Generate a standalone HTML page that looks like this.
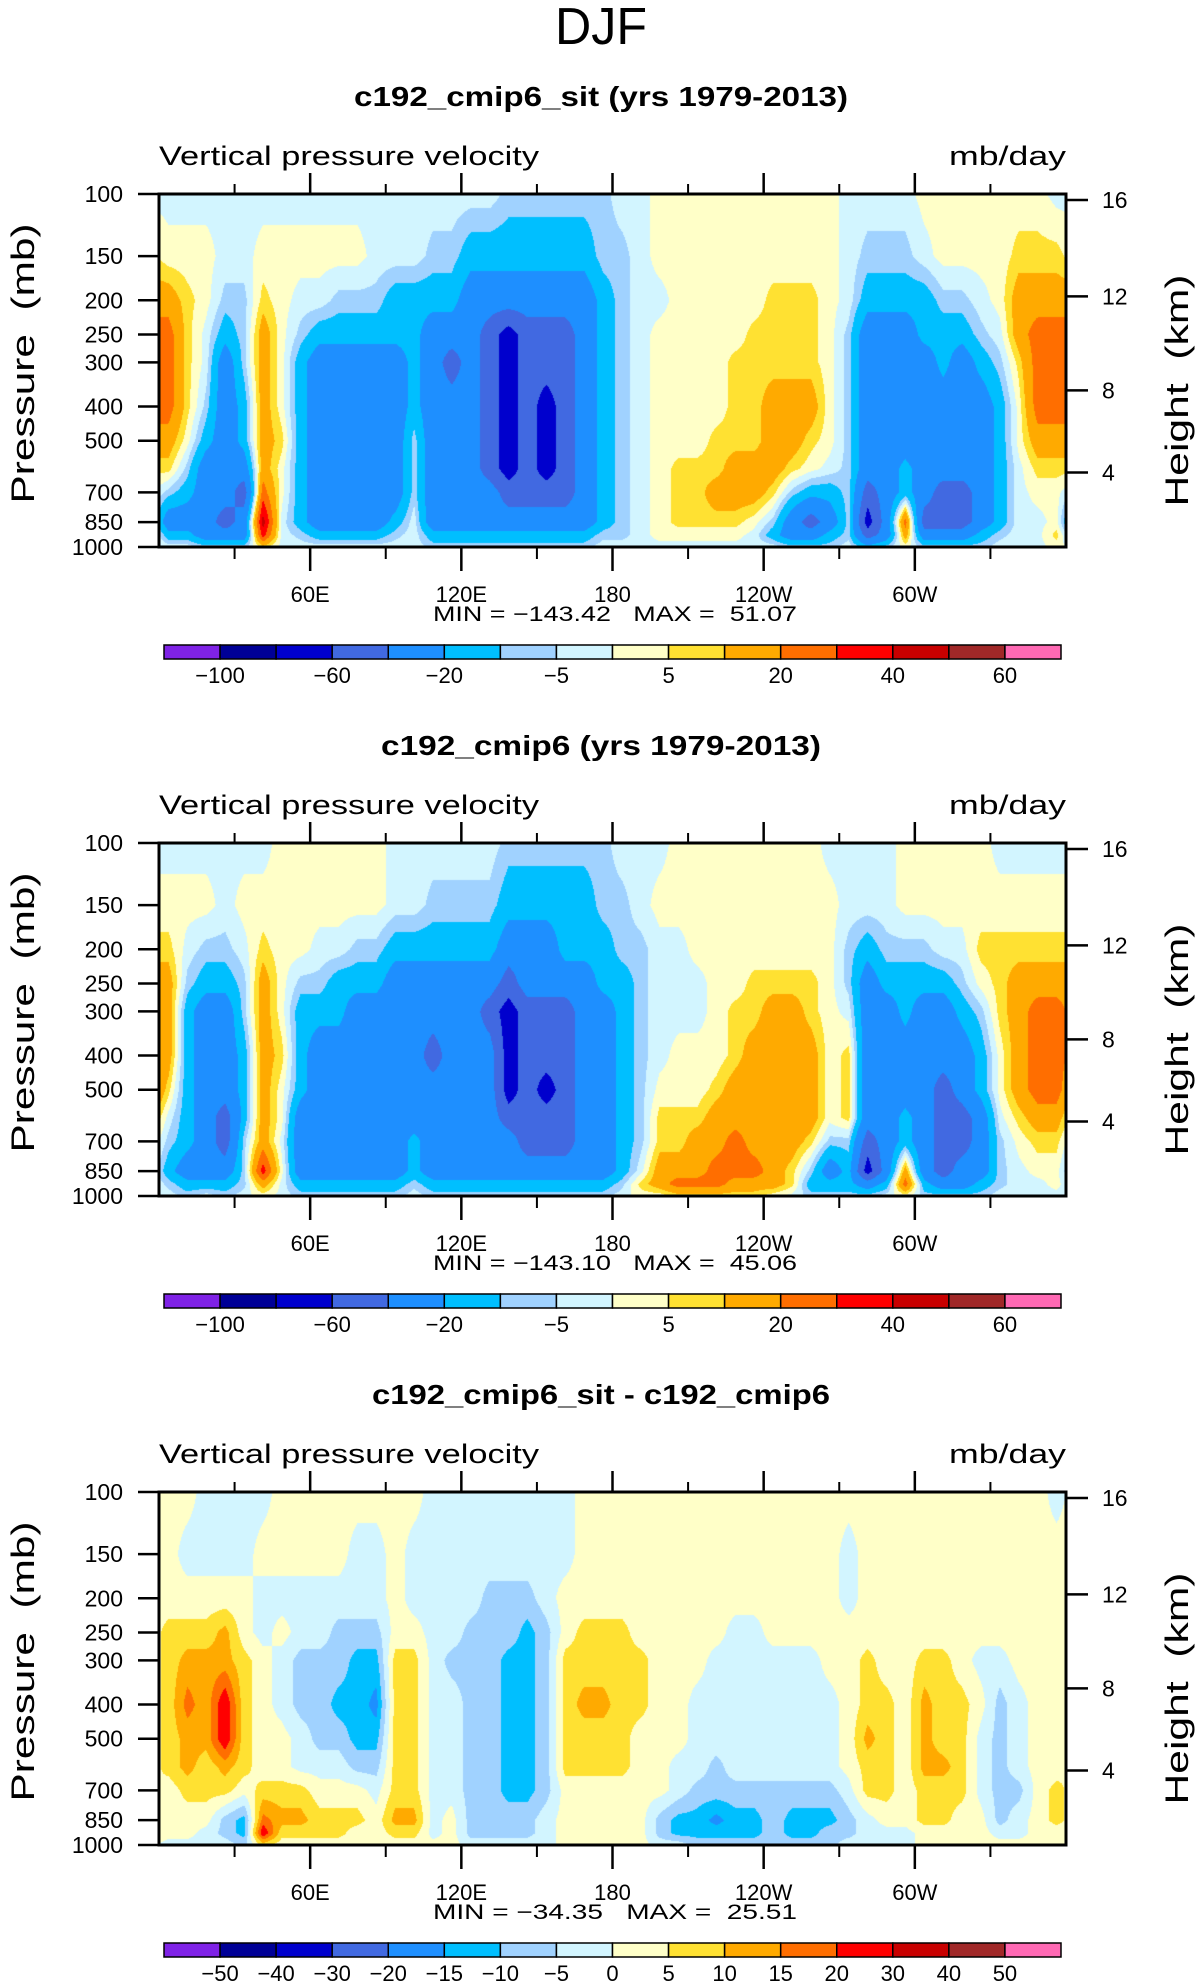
<!DOCTYPE html>
<html><head><meta charset="utf-8"><title>DJF Vertical pressure velocity</title>
<style>
html,body{margin:0;padding:0;background:#fff;}
#root{position:relative;width:1203px;height:1987px;overflow:hidden;background:#fff;}
canvas{position:absolute;}
svg{position:absolute;left:0;top:0;}
text{font-family:"Liberation Sans",sans-serif;fill:#000;white-space:pre;}
</style></head>
<body>
<div id="root">
<canvas id="c0"></canvas>
<canvas id="c1"></canvas>
<canvas id="c2"></canvas>
<svg id="s" width="1203" height="1987">
<text x="601" y="44" text-anchor="middle" font-size="52" textLength="92" lengthAdjust="spacingAndGlyphs">DJF</text>
</svg>
</div>
<script>
// ---- data ----
const pressureLevels = [100,150,200,250,300,400,500,600,700,850,925,1000];
const lonStep = 7.5; // grid spacing of columns (deg), first center at 3.75
const levels12 = [-100,-80,-60,-40,-20,-10,-5,0,5,10,20,30,40,50,60];
const levels3 = [-50,-40,-30,-20,-15,-10,-5,0,5,10,15,20,30,40,50];
const cbLabels12 = ["","\u2212100","","\u221260","","\u221220","","\u22125","","5","","20","","40","","60"];
const cbLabels3 = ["\u221250","\u221240","\u221230","\u221220","\u221215","\u221210","\u22125","0","5","10","15","20","30","40","50"];
const colors = ['#7F22E6','#000096','#0000CD','#4169E1','#1E8FFF','#00BFFF','#A0D2FF','#D2F5FF','#FFFFC8','#FFE132','#FFAA00','#FF6E00','#FF0000','#C80000','#A02828','#FF69B4'];
const xTickLon = [60,120,180,240,300];
const xTickLabels = ["60E","120E","180","120W","60W"];
const xMinorLon = [30,90,150,210,270,330];
const yTickP = [100,150,200,250,300,400,500,700,850,1000];
const hTickKm = [4,8,12,16];
const hTickP = [615,360,195,104];
const titles = ["c192_cmip6_sit (yrs 1979-2013)","c192_cmip6 (yrs 1979-2013)","c192_cmip6_sit - c192_cmip6"];
const minVals = ["\u2212143.42","\u2212143.10","\u221234.35"];
const maxVals = ["51.07","45.06","25.51"];

const field1 = [
[-2,2,15,25,25,25,15,7,-7,-30,-15,-2],[-2,2,7,7,7,7,2,-7,-15,-30,-15,-2],[-2,2,2,-2,-2,-7,-15,-30,-30,-30,-30,-7],
[-2,-2,-7,-15,-30,-30,-30,-30,-30,-50,-30,-7],[-2,-2,-7,-7,-7,-15,-15,-30,-50,-30,-30,-7],[-2,2,7,15,15,15,15,15,25,45,35,7],
[-2,2,2,2,2,2,7,2,2,-2,-2,-2],[-2,2,-2,-7,-15,-15,-15,-15,-15,-15,-7,-2],[-2,2,-2,-15,-30,-30,-30,-30,-30,-30,-15,-2],
[-2,2,-7,-15,-30,-30,-30,-30,-30,-30,-15,-2],[-2,2,-7,-15,-30,-30,-30,-30,-30,-30,-15,-2],[-2,-2,-7,-15,-30,-30,-30,-30,-30,-30,-15,-2],
[-2,-2,-15,-15,-30,-30,-30,-30,-30,-15,-7,-2],[-2,-2,-15,-15,-15,-15,-7,-7,-7,-2,-2,-2],[-2,-7,-15,-30,-30,-30,-30,-30,-30,-30,-15,-7],
[-2,-7,-15,-30,-50,-30,-30,-30,-30,-30,-15,-7],[-2,-15,-30,-30,-30,-30,-30,-30,-30,-30,-15,-7],[-2,-15,-30,-50,-50,-50,-50,-50,-30,-30,-15,-7],
[-7,-15,-30,-70,-70,-70,-70,-70,-50,-30,-15,-7],[-7,-15,-30,-50,-50,-50,-50,-50,-50,-30,-15,-7],[-7,-15,-30,-50,-50,-70,-70,-70,-50,-30,-15,-7],
[-7,-15,-30,-50,-50,-50,-50,-50,-50,-30,-15,-7],[-7,-15,-30,-30,-30,-30,-30,-30,-30,-30,-15,-7],[-7,-7,-15,-15,-15,-15,-15,-15,-15,-15,-7,-2],
[-2,-7,-7,-7,-7,-7,-7,-7,-7,-7,-7,-2],[-2,-2,-2,-2,-2,-2,-2,-2,-2,-2,-2,-2],[2,2,-2,2,2,2,2,2,2,2,2,-2],
[2,2,2,2,2,2,2,7,7,7,2,-2],[2,2,2,2,2,2,2,7,7,7,2,-2],[2,2,2,2,2,2,7,7,15,7,2,-2],
[2,2,2,2,7,7,7,15,15,7,2,-2],[2,2,2,7,7,7,7,15,15,2,-2,-2],[2,2,7,7,7,15,15,15,7,-7,-15,-2],
[2,2,7,7,7,15,15,7,-7,-30,-30,-7],[2,2,7,7,7,15,7,2,-15,-50,-30,-7],[2,2,2,2,2,2,2,-2,-15,-30,-15,-7],
[-2,-2,-2,-7,-7,-7,-7,-7,-7,-7,-7,-2],[-2,-7,-15,-30,-30,-30,-30,-30,-50,-70,-50,-15],[-2,-7,-15,-30,-30,-30,-30,-30,-30,-30,-30,-7],
[-2,-7,-15,-30,-30,-30,-30,-15,-15,25,15,2],[2,-2,-15,-15,-30,-30,-30,-30,-30,-50,-30,-7],[2,2,-7,-15,-15,-30,-30,-30,-50,-50,-30,-7],
[2,2,-7,-15,-30,-30,-30,-30,-50,-50,-30,-7],[2,2,-2,-7,-15,-30,-30,-30,-30,-30,-15,-7],[2,2,2,-2,-7,-15,-15,-15,-15,-15,-7,-2],
[2,7,15,15,7,2,2,-2,-2,-2,-2,-2],[2,7,15,25,25,25,15,7,2,-2,-2,-2],[-2,7,15,25,25,25,15,7,2,2,7,2]
];
const field2 = [
[-2,2,7,15,15,15,7,-2,-7,-15,-7,-2],[-2,2,-2,-7,-15,-15,-15,-15,-15,-30,-15,-7],[-2,2,-7,-15,-30,-30,-30,-30,-30,-30,-15,-2],
[-2,-2,-7,-15,-30,-30,-30,-50,-50,-30,-15,-7],[-2,2,-2,-7,-7,-15,-15,-15,-7,-7,-7,-2],[-2,2,7,15,15,15,15,15,15,35,15,2],
[2,2,2,2,2,7,2,2,-2,2,-2,-2],[2,2,2,-7,-15,-15,-15,-30,-30,-30,-15,-7],[2,2,-2,-7,-15,-30,-30,-30,-30,-30,-15,-7],
[2,2,-2,-15,-15,-30,-30,-30,-30,-30,-15,-7],[2,2,-7,-15,-30,-30,-30,-30,-30,-30,-15,-7],[2,2,-7,-15,-30,-30,-30,-30,-30,-30,-15,-7],
[-2,-2,-15,-30,-30,-30,-30,-30,-30,-30,-15,-7],[-2,-2,-15,-30,-30,-30,-30,-30,-15,-15,-7,-2],[-2,-7,-15,-30,-30,-50,-30,-30,-30,-30,-15,-7],
[-2,-7,-15,-30,-30,-30,-30,-30,-30,-30,-15,-7],[-2,-7,-15,-30,-30,-30,-30,-30,-30,-30,-15,-7],[-2,-7,-15,-30,-50,-30,-30,-30,-30,-30,-15,-7],
[-7,-15,-30,-50,-70,-70,-70,-50,-30,-30,-15,-7],[-7,-15,-30,-30,-50,-50,-50,-50,-50,-30,-15,-7],[-7,-15,-30,-30,-50,-50,-70,-50,-50,-30,-15,-7],
[-7,-15,-15,-30,-50,-50,-50,-50,-50,-30,-15,-7],[-7,-15,-15,-30,-30,-30,-30,-30,-30,-30,-15,-7],[-7,-7,-15,-15,-30,-30,-30,-30,-30,-30,-15,-7],
[-2,-7,-7,-15,-15,-15,-15,-15,-15,-15,-7,-2],[-2,-2,-7,-7,-7,-7,-7,-7,-7,-2,7,2],[-2,2,-2,-2,-2,-2,2,7,7,15,15,2],
[2,2,-2,-2,-2,2,2,7,7,15,25,7],[2,2,2,-2,-2,2,2,7,15,15,25,7],[2,2,2,2,2,2,7,15,15,25,25,7],
[2,2,2,2,7,7,15,15,25,25,15,7],[2,2,2,7,7,15,15,15,15,25,15,7],[2,2,2,7,15,15,15,15,15,15,15,2],
[2,2,2,7,15,15,15,15,15,7,7,-2],[2,2,2,7,7,15,15,15,7,-7,-15,-7],[-2,2,2,2,2,2,2,2,-7,-30,-15,-7],
[-2,-2,-7,-7,-2,7,7,7,-7,-15,-15,-7],[-2,-2,-15,-30,-30,-30,-30,-30,-50,-70,-30,-7],[-2,-2,-7,-15,-30,-30,-30,-30,-30,-30,-15,-2],
[2,2,-7,-15,-15,-30,-30,-15,-15,15,25,2],[2,2,-7,-15,-30,-30,-30,-30,-30,-30,-15,-7],[2,2,-2,-15,-30,-30,-50,-50,-50,-50,-30,-7],
[2,2,-2,-7,-15,-30,-30,-50,-50,-30,-30,-7],[2,2,7,2,-7,-15,-15,-30,-30,-30,-15,-7],[-2,2,7,7,7,2,2,-2,-7,-7,-7,-2],
[-2,2,7,15,15,15,15,7,2,-2,-2,-2],[-2,2,7,15,25,25,25,15,7,2,-2,-2],[-2,2,7,15,25,25,25,15,7,2,2,-2]
];
const field3 = [
[2,2,2,7,7,7,7,7,2,2,2,-2],[2,-2,2,7,12,17,12,12,7,2,2,-2],[-2,-2,2,7,12,12,12,7,7,2,-2,-2],
[-2,-2,2,12,12,25,25,12,7,-7,-7,-2],[-2,-2,2,2,7,7,7,7,2,-12,-12,-7],[-2,2,-2,-2,2,2,2,2,7,17,25,7],
[2,2,-2,2,-2,-2,2,2,7,12,7,2],[2,2,-2,-2,-7,-7,-2,-2,7,12,7,2],[2,2,-2,-2,-7,-7,-7,-2,2,7,7,2],
[2,2,-2,-7,-7,-12,-7,-2,2,7,7,2],[2,-2,-2,-7,-12,-12,-12,-7,2,7,2,2],[2,-2,-2,-7,-12,-17,-12,-7,-2,2,2,2],
[2,2,2,2,7,7,7,7,7,12,7,2],[2,-2,-2,2,7,7,7,7,7,12,7,2],[-2,-2,-2,-2,-2,-2,-2,-2,-2,-2,-2,2],
[-2,-2,-2,-2,-7,-2,-2,-2,-2,2,2,2],[-2,-2,-2,-7,-7,-7,-7,-7,-7,-7,-7,-2],[-2,-2,-7,-7,-7,-7,-7,-7,-7,-7,-7,-2],
[-2,-2,-7,-7,-12,-12,-12,-12,-12,-7,-7,-2],[-2,-2,-7,-12,-12,-12,-12,-12,-12,-7,-7,-2],[-2,-2,-2,-7,-7,-7,-7,-7,-7,-2,-2,-2],
[-2,-2,2,2,7,7,7,7,2,2,2,2],[2,2,2,7,7,12,7,7,2,2,2,2],[2,2,2,7,7,12,7,7,2,2,2,2],
[2,2,2,7,7,7,7,7,2,2,2,2],[2,2,2,2,7,7,2,2,2,2,2,2],[2,2,2,2,2,2,2,2,2,-7,-7,-2],
[2,2,2,2,2,2,2,-2,-2,-12,-12,-2],[2,2,2,2,2,-2,-2,-2,-7,-12,-12,-7],[2,2,2,2,-2,-2,-2,-7,-7,-17,-12,-7],
[2,2,2,-2,-2,-2,-2,-2,-7,-12,-12,-7],[2,2,2,-2,-2,-2,-2,-2,-7,-12,-12,-7],[2,2,2,2,-2,-2,-2,-2,-7,-7,-7,-7],
[2,2,2,2,-2,-2,-2,-2,-7,-12,-12,-7],[2,2,2,2,-2,-2,-2,-2,-7,-12,-12,-7],[2,2,2,2,2,-2,-2,-2,-7,-12,-7,-7],
[2,-2,-2,2,2,2,2,2,-2,-7,-7,-2],[2,2,2,2,7,7,12,7,7,-2,-2,-2],[2,2,2,2,2,7,7,7,7,2,-2,-2],
[2,2,2,2,2,2,2,2,2,2,-2,-2],[2,2,2,2,7,12,12,12,7,7,2,2],[2,2,2,2,7,7,7,12,7,7,2,2],
[2,2,2,2,2,7,7,7,7,2,2,2],[2,2,2,2,-2,2,-2,-2,-2,2,2,2],[2,2,2,2,-2,-7,-7,-7,-7,-7,-2,2],
[2,2,2,2,2,-2,-2,-2,-7,-2,-2,2],[2,2,2,2,2,2,2,2,2,2,2,2],[-2,2,2,2,2,2,2,2,7,7,2,2]
];
const fields = [field1, field2, field3];

// ---- layout ----
const PL = 159, PR = 1066, PW = PR - PL, PH = 353;
const panelTops = [194, 843, 1492];
const NS = "http://www.w3.org/2000/svg";
const svg = document.getElementById('s');

function xOf(lon){ return PL + lon / 360 * PW; }
function yOf(top, p){ return top + Math.log10(p / 100) * PH; }

function mk(tag, attrs, parent){
  const e = document.createElementNS(NS, tag);
  for (const k in attrs) e.setAttribute(k, attrs[k]);
  (parent || svg).appendChild(e);
  return e;
}

function levelIndex(v, lv){ let i = 0; while (i < lv.length && v >= lv[i]) i++; return i; }
function hexRGB(h){ return [parseInt(h.substr(1,2),16), parseInt(h.substr(3,2),16), parseInt(h.substr(5,2),16)]; }
const rgb = colors.map(hexRGB);

function drawField(ci, field, lv, top){
  const cv = document.getElementById('c' + ci);
  cv.width = PW; cv.height = PH;
  cv.style.left = PL + 'px'; cv.style.top = top + 'px';
  const ctx = cv.getContext('2d');
  const img = ctx.createImageData(PW, PH);
  const n = field.length;
  const rows = pressureLevels.map(p => Math.log10(p / 100));
  for (let py = 0; py < PH; py++){
    const lp = (py + 0.5) / PH;
    let k = 0; while (k < rows.length - 2 && lp > rows[k + 1]) k++;
    let fy = (lp - rows[k]) / (rows[k + 1] - rows[k]); fy = Math.max(0, Math.min(1, fy));
    for (let px = 0; px < PW; px++){
      const lon = (px + 0.5) / PW * 360;
      let fi = (lon - lonStep / 2) / lonStep;
      let i0 = Math.floor(fi); const fx = fi - i0;
      i0 = ((i0 % n) + n) % n; const i1 = (i0 + 1) % n;
      const a = field[i0][k] * (1 - fy) + field[i0][k + 1] * fy;
      const b = field[i1][k] * (1 - fy) + field[i1][k + 1] * fy;
      const v = a * (1 - fx) + b * fx;
      const c = rgb[levelIndex(v, lv)];
      const o = (py * PW + px) * 4;
      img.data[o] = c[0]; img.data[o+1] = c[1]; img.data[o+2] = c[2]; img.data[o+3] = 255;
    }
  }
  ctx.putImageData(img, 0, 0);
}

for (let pi = 0; pi < 3; pi++){
  const top = panelTops[pi], bot = top + PH;
  const lv = pi < 2 ? levels12 : levels3;
  drawField(pi, fields[pi], lv, top);
  const g = mk('g', {});
  
  

  let t = mk('text', {x: 601, y: top - 88, 'text-anchor': 'middle', 'font-size': 28, 'font-weight': 'bold', textLength: pi === 2 ? 458 : (pi === 0 ? 494 : 440), lengthAdjust: 'spacingAndGlyphs'}, g);
  t.textContent = titles[pi];
  
  

  t = mk('text', {x: PL, y: top - 29, 'font-size': 27, textLength: 380, lengthAdjust: 'spacingAndGlyphs'}, g);
  t.textContent = 'Vertical pressure velocity';
  
  

  t = mk('text', {x: PR, y: top - 29, 'font-size': 27, 'text-anchor': 'end', textLength: 117, lengthAdjust: 'spacingAndGlyphs'}, g);
  t.textContent = 'mb/day';
  
  

  const fr = mk('rect', {x: PL, y: top, width: PW, height: PH, fill: 'none', stroke: '#000', 'stroke-width': 3}, g);
  
  

  xTickLon.forEach((lon, i) => {
    const x = xOf(lon);
    const l1 = mk('line', {x1: x, x2: x, y1: bot, y2: bot + 24, stroke: '#000', 'stroke-width': 2.5}, g);
    
    
    const l2 = mk('line', {x1: x, x2: x, y1: top, y2: top - 21, stroke: '#000', 'stroke-width': 2.5}, g);
    
    
    const tl = mk('text', {x: x, y: bot + 55, 'text-anchor': 'middle', 'font-size': 22}, g);
    tl.textContent = xTickLabels[i];
    
    
  });
  xMinorLon.forEach(lon => {
    const x = xOf(lon);
    const l1 = mk('line', {x1: x, x2: x, y1: bot, y2: bot + 12, stroke: '#000', 'stroke-width': 2}, g);
    
    
    const l2 = mk('line', {x1: x, x2: x, y1: top, y2: top - 10, stroke: '#000', 'stroke-width': 2}, g);
    
    
  });

  yTickP.forEach(p => {
    const y = yOf(top, p);
    const l = mk('line', {x1: PL - 21, x2: PL, y1: y, y2: y, stroke: '#000', 'stroke-width': 2.5}, g);
    
    
    const tl = mk('text', {x: 123, y: y + 8, 'text-anchor': 'end', 'font-size': 23}, g);
    tl.textContent = String(p);
    
    
  });
  hTickKm.forEach((km, i) => {
    const y = yOf(top, hTickP[i]);
    const l = mk('line', {x1: PR, x2: PR + 22, y1: y, y2: y, stroke: '#000', 'stroke-width': 2.5}, g);
    
    
    const tl = mk('text', {x: PR + 36, y: y + 8, 'font-size': 23}, g);
    tl.textContent = String(km);
    
    
  });

  const cy = top + PH / 2;
  t = mk('text', {x: 0, y: 0, 'font-size': 32, 'text-anchor': 'middle', transform: 'translate(34,' + (cy - 7) + ') rotate(-90)', textLength: 280, lengthAdjust: 'spacingAndGlyphs'}, g);
  t.textContent = 'Pressure  (mb)';
  
  
  t = mk('text', {x: 0, y: 0, 'font-size': 32, 'text-anchor': 'middle', transform: 'translate(1188,' + (cy + 20) + ') rotate(-90)', textLength: 232, lengthAdjust: 'spacingAndGlyphs'}, g);
  t.textContent = 'Height  (km)';
  
  

  t = mk('text', {x: 615, y: bot + 74, 'text-anchor': 'middle', 'font-size': 21, textLength: 364, lengthAdjust: 'spacingAndGlyphs'}, g);
  t.textContent = 'MIN = ' + minVals[pi] + '   MAX =  ' + maxVals[pi];
  
  

  const cbL = 164, cbR = 1061, cbT = bot + 98, cbH = 14, bw = (cbR - cbL) / 16;
  colors.forEach((c, i) => {
    const r = mk('rect', {x: cbL + i * bw, y: cbT, width: bw, height: cbH, fill: c, stroke: '#000', 'stroke-width': 1.5}, g);
    
    
  });
  const labs = pi < 2 ? cbLabels12.slice(1) : cbLabels3;
  labs.forEach((s, i) => {
    if (!s) return;
    const tl = mk('text', {x: cbL + (i + 1) * bw, y: cbT + 38, 'text-anchor': 'middle', 'font-size': 22}, g);
    tl.textContent = s;
    
    
  });
}
</script>
</body></html>
